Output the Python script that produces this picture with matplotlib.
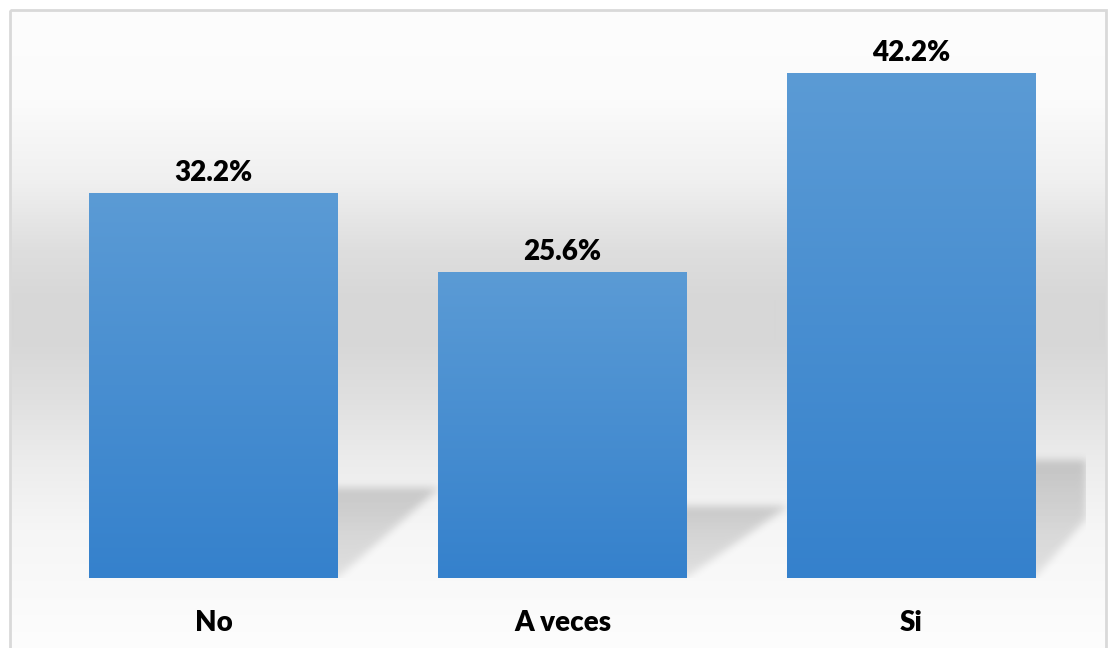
import numpy as np
import matplotlib.pyplot as plt
from matplotlib.colors import LinearSegmentedColormap
from matplotlib.patches import Rectangle

# data
categories = ['No', 'A veces', 'Si']
values = [32.2, 25.6, 42.2]
labels = ['32.2%', '25.6%', '42.2%']

W, H = 1108, 648
fig = plt.figure(figsize=(W / 100, H / 100), dpi=100)

# background gradient of the chart area (pixel space)
bg = fig.add_axes([0, 0, 1, 1])
bg.set_xlim(0, W)
bg.set_ylim(H, 0)
bg.axis('off')
stops_y = [11, 100, 180, 250, 300, 340, 400, 460, 530, 648]
stops_v = [253, 251, 240, 222, 215, 215, 224, 236, 246, 253]
yy = np.arange(11, H)
grey = np.interp(yy, stops_y, stops_v) / 255.0
grad = np.repeat(grey[:, None], 2, axis=1)
bg.imshow(np.dstack([grad, grad, grad]), extent=(10, W - 2, H, 11),
          aspect='auto', interpolation='bilinear', zorder=0)
bg.add_patch(Rectangle((10, 10), W - 12, H + 20, fill=False,
                       edgecolor='#d9d9d9', lw=2, zorder=1))

# main axes
left, right, base, top = 39, 1086, 578, 20
ax = fig.add_axes([left / W, (H - base) / H, (right - left) / W, (base - top) / H])
ax.patch.set_alpha(0)
ymax = (base - top) / 11.97
ax.set_xlim(-0.5, 2.5)
ax.set_ylim(0, ymax)
for s in ax.spines.values():
    s.set_visible(False)
ax.set_yticks([])

x = np.arange(len(categories))
width = 0.712

# soft perspective shadows behind each bar
nx, ny = right - left, base - top
gx = np.linspace(-0.5, 2.5, nx)
gy = np.linspace(0, ymax, ny)
X, Y = np.meshgrid(gx, gy)
alpha = np.zeros_like(X)
dx = 0.29
for xi, v in zip(x, values):
    hs = 0.233 * v
    t = Y / hs
    inside = (Y >= 0) & (Y <= hs) & (X >= xi - width / 2 + t * dx) & (X <= xi + width / 2 + t * dx)
    alpha = np.maximum(alpha, inside * (0.55 + 0.45 * np.clip(t, 0, 1)))
k = np.exp(-0.5 * (np.arange(-12, 13) / 4.0) ** 2)
k /= k.sum()
alpha = np.apply_along_axis(lambda r: np.convolve(r, k, mode='same'), 1, alpha)
alpha = np.apply_along_axis(lambda c: np.convolve(c, k, mode='same'), 0, alpha)
shadow = np.zeros((ny, nx, 4))
shadow[..., 3] = alpha * 0.17
ax.imshow(shadow, extent=(-0.5, 2.5, 0, ymax), origin='lower', aspect='auto',
          interpolation='bilinear', zorder=1)

# bars with vertical gradient
bars = ax.bar(x, values, width=width, color='#4a90d2', zorder=2)
cmap = LinearSegmentedColormap.from_list('bar', ['#3581cc', '#5b9bd5'])
for b in bars:
    g = np.linspace(0, 1, 256)[:, None]
    im = ax.imshow(g, cmap=cmap, origin='lower', aspect='auto',
                   extent=(b.get_x(), b.get_x() + b.get_width(), 0, b.get_height()),
                   zorder=3)
    im.set_clip_path(b)

for xi, v, lab in zip(x, values, labels):
    ax.annotate(lab, (xi, v), xytext=(0, 5), textcoords='offset points',
                ha='center', va='bottom', fontsize=20, fontweight='heavy',
                family='Lato', color='black', zorder=4)

ax.set_xticks(x)
ax.set_xticklabels(categories, fontsize=20, fontweight='heavy', family='Lato')
ax.tick_params(axis='x', length=0, pad=23)
ax.set_xlim(-0.5, 2.5)
ax.set_ylim(0, ymax)

fig.savefig('out.png', dpi=100)
